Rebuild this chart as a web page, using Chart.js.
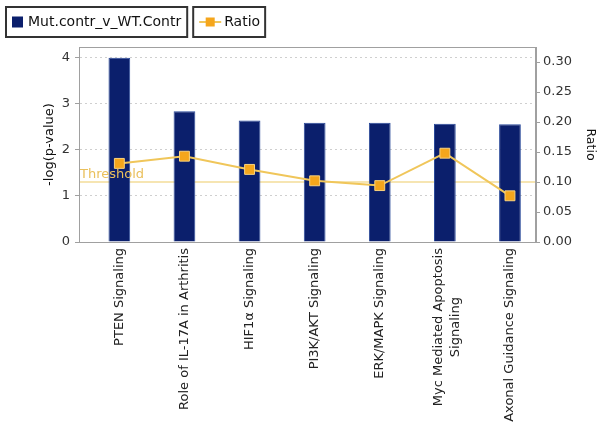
<!DOCTYPE html>
<html>
<head>
<meta charset="utf-8">
<script src="https://cdn.jsdelivr.net/npm/chart.js@4.4.0/dist/chart.umd.min.js"></script>
<style>
  html, body { margin: 0; padding: 0; background: #fff; }
  #wrap { width: 602px; height: 429px; position: relative; }
</style>
</head>
<body>
<div id="wrap"><canvas id="c" width="602" height="429"></canvas></div>
<script>
// ---- data ----
const categories = [
  "PTEN Signaling",
  "Role of IL-17A in Arthritis",
  "HIF1\u03b1 Signaling",
  "PI3K/AKT Signaling",
  "ERK/MAPK Signaling",
  ["Myc Mediated Apoptosis", "Signaling"],
  "Axonal Guidance Signaling"
];
const pValueSeries = [3.99, 2.83, 2.63, 2.58, 2.58, 2.56, 2.55];
const ratioSeries = [0.131, 0.143, 0.121, 0.102, 0.094, 0.148, 0.077];
const leftTicks = [0, 1, 2, 3, 4];
const rightTicks = [0, 0.05, 0.10, 0.15, 0.20, 0.25, 0.30];
const thresholdValue = 1.3;
const seriesNames = ["Mut.contr_v_WT.Contr", "Ratio"];

const BAR = '#0b1f6c';
const LINE = '#f0c65a';
const MARK = '#f5a61c';
const FONT = "'DejaVu Sans', sans-serif";

const barPoints = pValueSeries.map((v, i) => ({ x: i, y: v }));
const ratioPoints = ratioSeries.map((v, i) => ({ x: i, y: v }));

const framePlugin = {
  id: 'frame',
  beforeDatasetsDraw(chart) {
    const {ctx, chartArea: a, scales} = chart;
    const y = scales.y.getPixelForValue(thresholdValue);
    ctx.save();
    ctx.strokeStyle = '#f3dc98';
    ctx.lineWidth = 1.5;
    ctx.beginPath();
    ctx.moveTo(a.left, y);
    ctx.lineTo(a.right, y);
    ctx.stroke();
    ctx.restore();
  },
  afterDatasetsDraw(chart) {
    const {ctx, chartArea: a, scales} = chart;
    ctx.save();
    ctx.strokeStyle = '#a0a0a0';
    ctx.lineWidth = 1;
    ctx.strokeRect(a.left + 0.5, a.top + 0.5, a.right - a.left - 1, a.bottom - a.top);
    const y = scales.y.getPixelForValue(thresholdValue);
    ctx.fillStyle = '#eac05c';
    ctx.font = "13px " + FONT;
    ctx.textBaseline = 'bottom';
    ctx.textAlign = 'left';
    ctx.fillText('Threshold', a.left + 1, y - 1);

    // category labels, rotated, centred per line
    const xs = scales.x;
    ctx.fillStyle = '#222';
    ctx.font = "13px " + FONT;
    ctx.textAlign = 'right';
    ctx.textBaseline = 'middle';
    const top = a.bottom + 6;
    const lh = 17;
    categories.forEach((lab, i) => {
      const lines = Array.isArray(lab) ? lab : [lab];
      const widths = lines.map(l => ctx.measureText(l).width);
      const maxW = Math.max(...widths);
      const px = xs.getPixelForValue(i);
      ctx.save();
      ctx.translate(px, top);
      ctx.rotate(-Math.PI / 2);
      lines.forEach((l, j) => {
        const off = (j - (lines.length - 1) / 2) * lh + (lines.length > 1 ? 2 : 0);
        ctx.fillText(l, -(maxW - widths[j]) / 2, off);
      });
      ctx.restore();
    });
    ctx.restore();
  },
  afterDraw(chart) {
    const ctx = chart.ctx;
    ctx.save();
    ctx.font = "14px " + FONT;
    ctx.textBaseline = 'middle';
    ctx.textAlign = 'left';
    const names = seriesNames;
    const w1 = ctx.measureText(names[0]).width;
    const x = 6, top = 7, h = 30, cy = top + h / 2;
    const bw = 22 + w1 + 6;
    ctx.strokeStyle = '#333';
    ctx.lineWidth = 2;
    ctx.strokeRect(x, top, bw, h);
    ctx.fillStyle = BAR;
    ctx.fillRect(x + 6, cy - 5.5, 11, 11);
    ctx.fillStyle = '#111';
    ctx.fillText(names[0], x + 22, cy);
    const x2 = x + bw + 6;
    const w2 = ctx.measureText(names[1]).width;
    const bw2 = 31 + w2 + 5;
    ctx.strokeRect(x2, top, bw2, h);
    ctx.strokeStyle = LINE;
    ctx.lineWidth = 2;
    ctx.beginPath();
    ctx.moveTo(x2 + 6, cy);
    ctx.lineTo(x2 + 28, cy);
    ctx.stroke();
    ctx.fillStyle = MARK;
    ctx.fillRect(x2 + 12.5, cy - 4.5, 9, 9);
    ctx.fillStyle = '#111';
    ctx.fillText(names[1], x2 + 31, cy);
    ctx.restore();
  }
};

new Chart(document.getElementById('c'), {
  data: {
    datasets: [
      {
        type: 'bar',
        label: seriesNames[0],
        data: barPoints,
        yAxisID: 'y',
        backgroundColor: BAR,
        borderColor: '#2a4a9a',
        borderWidth: 1,
        barPercentage: 0.334,
        categoryPercentage: 1.0,
        order: 1
      },
      {
        type: 'line',
        label: seriesNames[1],
        data: ratioPoints,
        yAxisID: 'y1',
        borderColor: LINE,
        borderWidth: 2,
        backgroundColor: MARK,
        pointStyle: 'rect',
        pointRadius: 7,
        pointBorderColor: '#f9d27e',
        pointBorderWidth: 1,
        tension: 0,
        order: 0
      }
    ]
  },
  options: {
    responsive: false,
    animation: false,
    layout: { padding: { top: 47, left: 0, right: 0, bottom: 0 } },
    plugins: { legend: { display: false }, tooltip: { enabled: false } },
    scales: {
      x: {
        type: 'linear',
        min: -0.62, max: 6.4,
        offset: false,
        grid: { display: false },
        border: { display: false },
        ticks: { display: false },
        afterFit(s) { s.height = 187; }
      },
      y: {
        position: 'left',
        min: 0, max: 4.22,
        afterBuildTicks(s) { s.ticks = leftTicks.map(v => ({ value: v })); },
        ticks: { color: '#333', padding: 5, font: { family: FONT, size: 13 } },
        grid: {
          color: (c) => c.tick && c.tick.value === 0 ? 'rgba(0,0,0,0)' : '#cfcfcf',
          tickColor: '#a0a0a0', tickLength: 4, tickBorderDash: [], tickWidth: 1
        },
        border: { display: true, color: '#a0a0a0', dash: [2, 3] },
        title: { display: true, text: '-log(p-value)', color: '#111', padding: { top: 42, bottom: 0 },
                 font: { family: FONT, size: 13 } },
        afterFit(s) { s.width = 79; }
      },
      y1: {
        position: 'right',
        min: 0, max: 0.325,
        afterBuildTicks(s) { s.ticks = rightTicks.map(v => ({ value: v })); },
        ticks: { color: '#333', padding: 3, font: { family: FONT, size: 13 },
                 callback: (v) => Number(v).toFixed(2) },
        grid: { drawOnChartArea: false, tickColor: '#a0a0a0', tickLength: 4 },
        border: { display: true, color: '#a0a0a0' },
        title: { display: true, text: 'Ratio', color: '#111', padding: { top: 4, bottom: 0 },
                 font: { family: FONT, size: 12.5 } },
        afterFit(s) { s.width = 66; }
      }
    }
  },
  plugins: [framePlugin]
});
</script>
</body>
</html>
